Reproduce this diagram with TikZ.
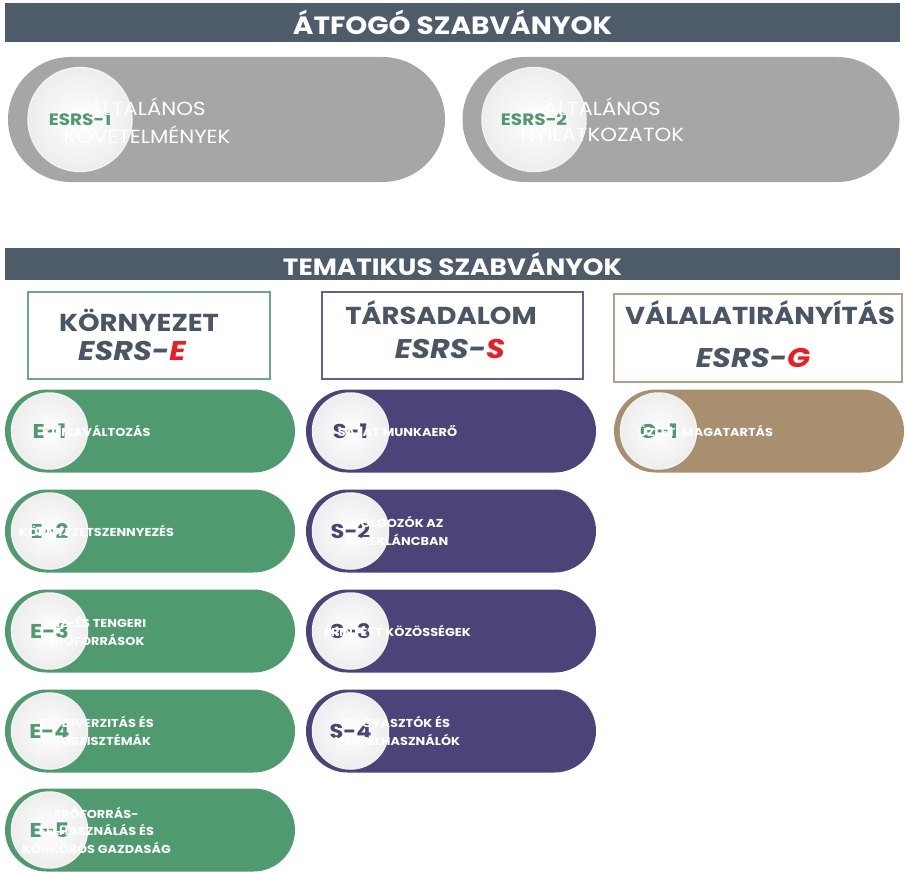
\documentclass[tikz,border=0pt]{standalone}
\usepackage{fontspec}
\setmainfont{Poppins}[FakeStretch=1.12]
\usetikzlibrary{shapes.misc}

\definecolor{barGrey}{HTML}{4E5C69}
\definecolor{pillGrey}{HTML}{A6A6A6}
\definecolor{envGreen}{HTML}{4F9A6F}
\definecolor{socPurple}{HTML}{4A4479}
\definecolor{govBrown}{HTML}{A88F6F}
\definecolor{titleSlate}{HTML}{4A5663}
\definecolor{esrsRed}{HTML}{EC1C24}

\tikzset{
  bar/.style={fill=barGrey, text=white, minimum width=895pt, inner sep=0pt,
    font=\bfseries\fontsize{#1}{#1}\selectfont},
  pill/.style={rounded rectangle, minimum width=290pt, minimum height=83pt, inner sep=0pt},
  bigPill/.style={rounded rectangle, fill=pillGrey, minimum width=437pt, minimum height=125pt, inner sep=0pt},
  plate/.style={circle, inner sep=0pt, minimum size=#1, inner color=white, outer color=black!7,
    draw=black!5, line width=1.5pt},
  plateLabel/.style={font=\bfseries\fontsize{20}{20}\selectfont},
  esrsLabel/.style={text=envGreen, font=\bfseries\fontsize{16.5}{16.5}\selectfont},
  groupBox/.style={draw=#1, line width=1.5pt, fill=white},
  groupTitle/.style={text=titleSlate, font=\bfseries\fontsize{24.5}{24.5}\selectfont},
  groupCode/.style={text=titleSlate, font=\bfseries\itshape\fontsize{27}{27}\selectfont}
}

\newcommand{\pillFont}{\bfseries\fontsize{11.5}{11.5}\selectfont}
\newcommand{\bigTextFont}{\fontsize{19}{19}\selectfont}
\newlength{\lineWd}

% id, pill centre x, y, pill colour, label colour, label
\newcommand{\topicPill}[6]{%
  \node[pill, fill=#4] (p#1) at (#2,#3) {};
  \node[plate=76pt] (pl#1) at ([xshift=-100.5pt]p#1.center) {};
  \node[plateLabel, text=#5] (l#1) at (pl#1) {#6};
  \coordinate (t#1) at ([xshift=-53.5pt]p#1.center);
}

% name, font, start point, shift up, text: one line set from its left end
\newcommand{\pillLine}[5]{%
  \settowidth{\lineWd}{#2 #5}%
  \node[text=white, inner sep=0pt, font=#2] (#1) at ([xshift=0.5\lineWd, yshift=#4]#3) {#5};
}

\begin{document}
\begin{tikzpicture}[x=1pt,y=-1pt]

\useasboundingbox (0,0) rectangle (907,872);

% headers
\node[bar=25, minimum height=39pt] (barTop) at (452.5,22.5) {ÁTFOGÓ SZABVÁNYOK};
\node[bar=23.5, minimum height=32pt] (barThem) at (452.5,264) {TEMATIKUS SZABVÁNYOK};

% cross-cutting standards
\node[bigPill] (pESRSa) at (226.5,119.5) {};
\node[plate=104pt] (plESRSa) at (80,119.5) {};
\node[esrsLabel] (lESRSa) at (plESRSa) {ESRS-1};
\coordinate (tESRSa) at (147,121);
\pillLine{tESRSa1}{\bigTextFont}{tESRSa}{14pt}{ÁLTALÁNOS}
\pillLine{tESRSa2}{\bigTextFont}{tESRSa}{-14pt}{KÖVETELMÉNYEK}

\node[bigPill] (pESRSb) at (681,119.5) {};
\node[plate=104pt] (plESRSb) at (534,119.5) {};
\node[esrsLabel] (lESRSb) at (plESRSb) {ESRS-2};
\coordinate (tESRSb) at (602,121);
\pillLine{tESRSb1}{\bigTextFont}{tESRSb}{14pt}{ÁLTALÁNOS}
\pillLine{tESRSb2}{\bigTextFont}{tESRSb}{-14pt}{NYILATKOZATOK}

% topic boxes
\draw[groupBox=envGreen!85] (28,292) rectangle (270,379);
\draw[groupBox=socPurple!85] (322,292) rectangle (583,379);
\draw[groupBox=govBrown!85] (614,294) rectangle (902,382);
\node[groupTitle] (titleE) at (139,320) {KÖRNYEZET};
\node[groupCode] (codeE) at (132,351) {ESRS-\textcolor{esrsRed}{E}};
\node[groupTitle] (titleS) at (441,313) {TÁRSADALOM};
\node[groupCode] (codeS) at (450,349) {ESRS-\textcolor{esrsRed}{S}};
\node[groupTitle] (titleG) at (760,313) {VÁLALATIRÁNYÍTÁS};
\node[groupCode] (codeG) at (753,358) {ESRS-\textcolor{esrsRed}{G}};

% environment
\topicPill{E1}{150}{431}{envGreen}{envGreen}{E-1}
\pillLine{tE1a}{\pillFont}{tE1}{0pt}{KLÍMAVÁLTOZÁS}
\topicPill{E2}{150}{531}{envGreen}{envGreen}{E-2}
\pillLine{tE2a}{\pillFont}{tE2}{0pt}{KÖRNYEZETSZENNYEZÉS}
\topicPill{E3}{150}{631}{envGreen}{envGreen}{E-3}
\pillLine{tE3a}{\pillFont}{tE3}{8.75pt}{VÍZ-ÉS TENGERI}
\pillLine{tE3b}{\pillFont}{tE3}{-8.75pt}{ERŐFORRÁSOK}
\topicPill{E4}{150}{731}{envGreen}{envGreen}{E-4}
\pillLine{tE4a}{\pillFont}{tE4}{8.75pt}{BIODIVERZITÁS ÉS}
\pillLine{tE4b}{\pillFont}{tE4}{-8.75pt}{ÖKOSZISZTÉMÁK}
\topicPill{E5}{150}{830}{envGreen}{envGreen}{E-5}
\pillLine{tE5a}{\pillFont}{tE5}{17.5pt}{ERŐFORRÁS-}
\pillLine{tE5b}{\pillFont}{tE5}{0pt}{FELHASZNÁLÁS ÉS}
\pillLine{tE5c}{\pillFont}{tE5}{-17.5pt}{KÖRKÖRÖS GAZDASÁG}

% social
\topicPill{S1}{451}{431}{socPurple}{socPurple}{S-1}
\pillLine{tS1a}{\pillFont}{tS1}{0pt}{SAJÁT MUNKAERŐ}
\topicPill{S2}{451}{531}{socPurple}{socPurple}{S-2}
\pillLine{tS2a}{\pillFont}{tS2}{8.75pt}{DOLGOZÓK AZ}
\pillLine{tS2b}{\pillFont}{tS2}{-8.75pt}{ÉRTÉKLÁNCBAN}
\topicPill{S3}{451}{631}{socPurple}{socPurple}{S-3}
\pillLine{tS3a}{\pillFont}{tS3}{0pt}{ÉRINTETT KÖZÖSSÉGEK}
\topicPill{S4}{451}{731}{socPurple}{socPurple}{S-4}
\pillLine{tS4a}{\pillFont}{tS4}{8.75pt}{FOGYASZTÓK ÉS}
\pillLine{tS4b}{\pillFont}{tS4}{-8.75pt}{VÉGFELHASZNÁLÓK}

% governance
\topicPill{G1}{759}{431}{govBrown}{envGreen}{G-1}
\pillLine{tG1a}{\pillFont}{tG1}{0pt}{ÜZLETI MAGATARTÁS}

\end{tikzpicture}
\end{document}
